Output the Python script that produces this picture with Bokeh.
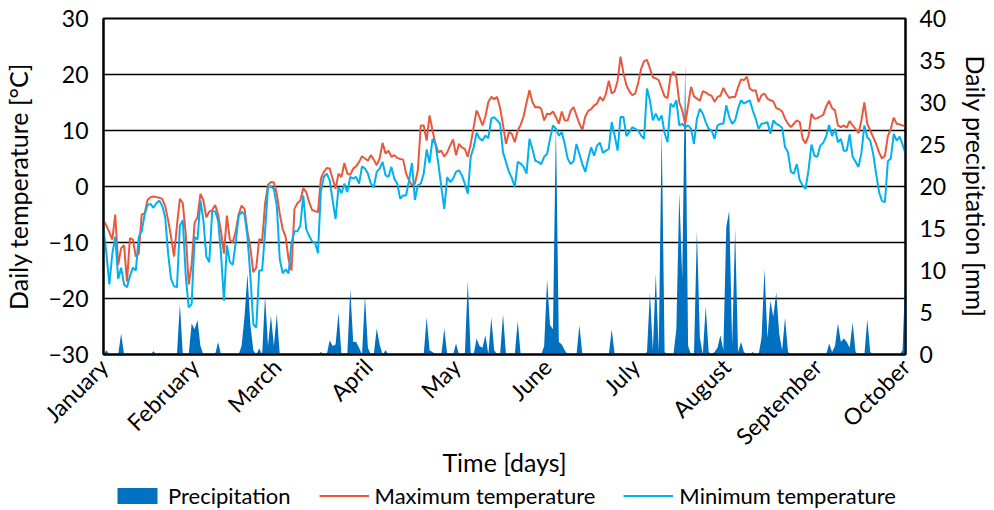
import math
from bokeh.plotting import figure
from bokeh.layouts import column
from bokeh.models import Range1d, LinearAxis, FixedTicker, Legend, LegendItem
from bokeh.embed import file_html
from bokeh.resources import INLINE

# ---- data (day index 0 = 1 January) ----
month_days = [0, 31, 59, 90, 120, 151, 181, 212, 243, 273]
month_names = ["January", "February", "March", "April", "May", "June",
               "July", "August", "September", "October"]

tmax = [
    -6.0, -7.0, -8.2, -9.5, -5.0, -14.0, -11.0, -10.5, -17.0, -9.2,
    -9.5, -12.5, -12.0, -5.0, -4.8, -2.4, -1.9, -1.8, -1.9, -2.0,
    -2.2, -3.5, -6.0, -9.0, -12.5, -7.0, -2.2, -3.0, -8.5, -17.5,
    -14.0, -6.5, -5.5, -1.3, -2.5, -5.5, -4.5, -4.2, -3.3, -5.0,
    -8.0, -12.0, -5.2, -9.5, -10.0, -8.0, -5.0, -3.4, -4.0, -8.0,
    -11.0, -15.3, -14.5, -9.4, -9.7, -3.0, 0.3, 0.8, 0.7, -1.3,
    -4.9, -7.6, -9.0, -13.0, -15.0, -4.0, -3.0, -2.5, -0.3, -1.0,
    -2.8, -4.2, -4.4, -4.6, 1.4, 2.6, 3.3, 3.2, 1.4, -0.4,
    2.3, 1.7, 4.2, 2.3, 2.1, 3.2, 3.6, 4.4, 5.4, 5.0,
    4.6, 5.6, 4.8, 3.8, 5.0, 7.8, 5.9, 6.4, 5.3, 5.6,
    5.1, 4.9, 4.8, 2.3, 1.1, 0.2, 0.5, 2.9, 10.9, 10.9,
    8.2, 12.7, 10.0, 7.6, 6.1, 6.4, 5.3, 6.1, 7.3, 8.4,
    5.6, 7.6, 7.0, 6.7, 5.3, 7.6, 10.6, 13.6, 12.4, 10.9,
    12.5, 15.1, 16.0, 15.6, 16.0, 14.0, 11.0, 7.6, 9.7, 9.4,
    7.9, 10.0, 11.0, 12.5, 15.0, 17.2, 15.1, 14.1, 14.2, 13.9,
    11.8, 13.0, 12.9, 13.4, 12.4, 11.2, 13.4, 11.8, 11.8, 13.5,
    14.2, 12.7, 11.2, 10.1, 12.5, 13.5, 13.8, 14.5, 14.8, 16.0,
    15.3, 16.5, 18.9, 16.6, 17.0, 18.9, 23.2, 20.2, 18.1, 17.0,
    16.3, 16.6, 18.5, 21.0, 22.4, 22.6, 21.1, 19.5, 19.3, 19.0,
    17.5, 16.1, 15.8, 19.6, 20.5, 19.5, 15.0, 13.6, 11.2, 14.5,
    17.8, 16.1, 15.7, 15.3, 17.0, 16.8, 16.4, 16.2, 15.1, 16.0,
    16.2, 17.6, 16.6, 15.8, 16.0, 16.0, 17.7, 19.1, 19.0, 19.6,
    17.5, 17.1, 17.2, 15.1, 16.3, 16.6, 15.7, 15.4, 15.2, 14.0,
    13.8, 13.4, 12.1, 11.2, 10.6, 11.2, 11.8, 11.5, 8.5, 7.7,
    9.1, 13.0, 12.1, 12.2, 12.5, 12.8, 14.3, 15.3, 14.0, 13.6,
    10.9, 10.6, 10.9, 10.5, 11.7, 10.9, 10.3, 9.5, 11.8, 15.0,
    11.2, 10.0, 8.8, 7.6, 6.1, 5.0, 5.5, 9.0, 10.3, 12.3,
    11.2, 11.1, 10.9, 10.8,
]

tmin = [
    -7.5, -12.0, -17.5, -12.0, -9.0, -16.5, -14.5, -17.5, -18.0, -16.0,
    -14.5, -15.0, -9.0, -8.0, -5.0, -3.3, -3.1, -3.8, -3.0, -2.5,
    -3.5, -5.5, -12.0, -16.5, -17.8, -18.0, -7.0, -6.0, -16.0, -21.6,
    -21.0, -9.0, -9.5, -2.5, -6.0, -12.5, -13.5, -4.5, -4.4, -6.0,
    -12.0, -20.4, -10.5, -13.5, -14.0, -10.0, -5.3, -4.5, -5.0, -9.0,
    -16.0, -24.6, -25.2, -15.0, -15.0, -8.0, -0.1, 0.0, -0.5, -3.5,
    -13.0, -15.5, -14.8, -15.5, -10.0, -8.0, -8.0, -7.0, -1.6, -7.6,
    -8.8, -9.8, -10.0, -11.9, -0.7, 1.7, 2.3, 1.1, -2.5, -5.8,
    -0.1, -1.2, 0.5, -1.0, 1.7, 1.4, 1.7, 0.5, 3.6, 3.2,
    2.3, 0.5, -0.1, 2.6, 3.2, 4.4, 2.0, 1.7, 3.5, 1.4,
    0.5, -2.2, -1.6, -1.6, 1.1, 4.2, -2.4, 0.2, 0.5, 2.3,
    6.6, 4.2, 8.5, 7.6, 4.0, -0.1, -4.0, 1.7, 0.8, 1.4,
    2.6, 2.9, 2.0, 0.5, -1.3, 5.3, 7.0, 9.6, 8.6, 8.2,
    9.1, 8.6, 12.1, 12.4, 11.8, 11.2, 6.1, 4.4, 2.6, 1.5,
    -0.1, 4.4, 4.1, 3.5, 2.3, 8.5, 6.7, 4.6, 4.4, 4.0,
    5.3, 5.8, 8.5, 10.9, 10.3, 9.1, 9.7, 7.6, 5.0, 4.0,
    4.5, 7.6, 5.8, 4.0, 2.6, 5.0, 7.0, 5.5, 7.3, 7.8,
    6.0, 6.4, 6.7, 11.5, 9.1, 6.4, 12.4, 12.4, 9.0, 9.7,
    10.6, 10.3, 10.0, 9.1, 8.5, 17.5, 15.4, 11.8, 13.0, 11.8,
    12.7, 9.5, 7.9, 14.8, 14.2, 15.4, 10.9, 11.2, 10.6, 10.9,
    10.3, 7.6, 12.1, 13.9, 13.0, 11.5, 10.3, 10.0, 8.5, 10.9,
    11.2, 11.2, 14.5, 12.4, 11.2, 11.8, 13.9, 15.4, 14.8, 15.1,
    15.4, 13.6, 12.1, 10.3, 11.2, 11.3, 11.5, 9.4, 11.8, 11.2,
    10.9, 10.5, 7.0, 6.1, 2.6, 2.3, 4.0, 1.1, 0.2, -0.4,
    3.0, 7.5, 5.5, 5.3, 7.3, 7.8, 9.0, 11.0, 9.0, 10.3,
    7.9, 8.5, 6.4, 6.4, 9.3, 5.3, 4.4, 3.5, 6.0, 10.9,
    8.8, 8.2, 5.8, 2.3, -1.0, -2.6, -2.8, 4.5, 5.0, 9.4,
    8.2, 8.9, 7.5, 5.9,
]

# precipitation: days with rain and amount (mm); all other days are dry
rain_day = [1, 6, 17, 19, 26, 30, 31, 32, 33, 39,
            47, 48, 49, 50, 51, 53, 55, 56, 57, 58, 59,
            74, 77, 78, 79, 80, 84, 85, 86, 87, 89, 90, 93, 94, 96,
            110, 111, 112, 116, 120, 124, 127, 128, 129, 130, 132, 133, 136, 141,
            150, 151, 152, 153, 154, 155, 156, 157, 162, 173,
            185, 186, 187, 188, 189, 190, 191, 195, 196, 197, 198, 199,
            202, 203, 205, 206, 208, 209, 210, 211, 212, 213, 214, 215, 216, 217, 218,
            221, 224, 225, 226, 227, 228, 229, 230, 231, 232, 233,
            247, 248, 249, 250, 251, 252, 253, 254, 255, 256, 260, 261, 272, 273]
rain_mm = [0.5, 2.5, 0.4, 0.2, 6.0, 3.7, 3.0, 4.1, 1.0, 1.5,
           1.0, 4.5, 9.6, 3.5, 0.5, 0.7, 7.0, 1.0, 4.6, 1.0, 4.8,
           0.3, 1.7, 1.0, 1.2, 5.0, 7.8, 1.5, 1.5, 0.8, 7.0, 0.8, 3.1, 1.2, 0.5,
           4.4, 0.5, 0.3, 3.1, 1.3, 8.8, 1.9, 1.0, 0.8, 2.3, 4.4, 0.5, 4.8, 4.0,
           1.0, 9.0, 3.5, 3.0, 27.5, 1.5, 1.2, 0.5, 3.5, 3.0,
           0.3, 7.4, 0.5, 9.6, 0.3, 26.9, 0.3, 3.0, 19.3, 9.0, 34.6, 1.0,
           14.8, 2.0, 5.7, 0.3, 0.3, 0.8, 2.3, 0.5, 15.2, 17.1, 1.0, 15.0, 0.3, 1.5, 0.3,
           0.3, 2.0, 10.2, 2.0, 6.4, 4.5, 7.4, 2.5, 0.5, 4.4, 0.3,
           1.3, 0.3, 1.0, 3.7, 1.5, 1.9, 1.5, 0.8, 3.8, 0.3, 4.2, 0.3, 0.5, 10.0]

temp_ticks = [-30, -20, -10, 0, 10, 20, 30]
rain_ticks = [0, 5, 10, 15, 20, 25, 30, 35, 40]

C_RAIN = "#0070C0"
C_MAX = "#E9583D"
C_MIN = "#00B0F0"

# ---- build ----
n = len(tmax)
days = list(range(n))
rain = [0.0] * n
for d, v in zip(rain_day, rain_mm):
    rain[d] = v

FONT = "Lato"
TICK_FS = "23px"
TITLE_FS = "25px"
LEG_FS = "22px"

p = figure(width=994, height=480, x_range=Range1d(0, n - 1), y_range=Range1d(-30, 30),
           output_backend="svg", toolbar_location=None,
           min_border_left=98, min_border_right=86, min_border_top=18, min_border_bottom=126)
p.extra_y_ranges = {"rain": Range1d(0, 40)}

p.varea(x=days, y1=[0] * n, y2=rain, y_range_name="rain", fill_color=C_RAIN, fill_alpha=1.0)
p.line(days, tmax, line_color=C_MAX, line_width=2)
p.line(days, tmin, line_color=C_MIN, line_width=2)

rax = LinearAxis(y_range_name="rain", ticker=FixedTicker(ticks=rain_ticks),
                 axis_label="Daily precipitation [mm]")
p.add_layout(rax, "right")

p.yaxis[0].ticker = FixedTicker(ticks=temp_ticks)
p.yaxis[0].axis_label = "Daily temperature [°C]"

p.xaxis.ticker = FixedTicker(ticks=month_days)
p.xaxis.major_label_overrides = {d: m for d, m in zip(month_days, month_names)}
p.xaxis.major_label_orientation = math.pi / 4
p.xaxis.axis_label = "Time [days]"

for ax in p.axis:
    ax.axis_line_color = "black"
    ax.axis_line_width = 2
    ax.major_tick_line_color = None
    ax.minor_tick_line_color = None
    ax.major_tick_out = 0
    ax.major_tick_in = 0
    ax.major_label_standoff = 14
    ax.major_label_text_font = FONT
    ax.major_label_text_font_size = TICK_FS
    ax.major_label_text_color = "black"
    ax.axis_label_text_font = FONT
    ax.axis_label_text_font_size = TITLE_FS
    ax.axis_label_text_font_style = "normal"
    ax.axis_label_text_color = "black"
    ax.axis_label_standoff = 12

p.yaxis[0].major_label_standoff = 15
p.xaxis.major_label_standoff = 8
p.xaxis.axis_label_standoff = -16

p.xgrid.visible = False
p.ygrid.ticker = FixedTicker(ticks=[-20, -10, 0, 10, 20])
p.ygrid.grid_line_color = "black"
p.ygrid.grid_line_width = 1.6

p.outline_line_color = "black"
p.outline_line_width = 2
p.background_fill_color = "white"
p.border_fill_color = "white"

# ---- legend strip below the chart: same series, drawn off-view, only the legend shows ----
q = figure(width=994, height=30, x_range=Range1d(0, n - 1), y_range=Range1d(1000, 1001),
           output_backend="svg", toolbar_location=None,
           x_axis_location=None, y_axis_location=None, min_border=0)
q.grid.visible = False
q.outline_line_color = None
q.border_fill_color = "white"
q.background_fill_color = "white"
g_rain = q.varea(x=days, y1=[0] * n, y2=rain, fill_color=C_RAIN, fill_alpha=1.0)
g_max = q.line(days, tmax, line_color=C_MAX, line_width=2)
g_min = q.line(days, tmin, line_color=C_MIN, line_width=2)
legend = Legend(items=[LegendItem(label="Precipitation", renderers=[g_rain]),
                       LegendItem(label="Maximum temperature", renderers=[g_max]),
                       LegendItem(label="Minimum temperature", renderers=[g_min])],
                orientation="horizontal", location="center",
                border_line_color=None, background_fill_alpha=0,
                label_text_font=FONT, label_text_font_size=LEG_FS, label_text_color="black",
                glyph_width=50, glyph_height=20, spacing=28, label_standoff=6,
                padding=1, margin=0)
q.add_layout(legend, "center")

page = column(p, q, spacing=0)
open("out.html", "w").write(file_html(page, INLINE))
